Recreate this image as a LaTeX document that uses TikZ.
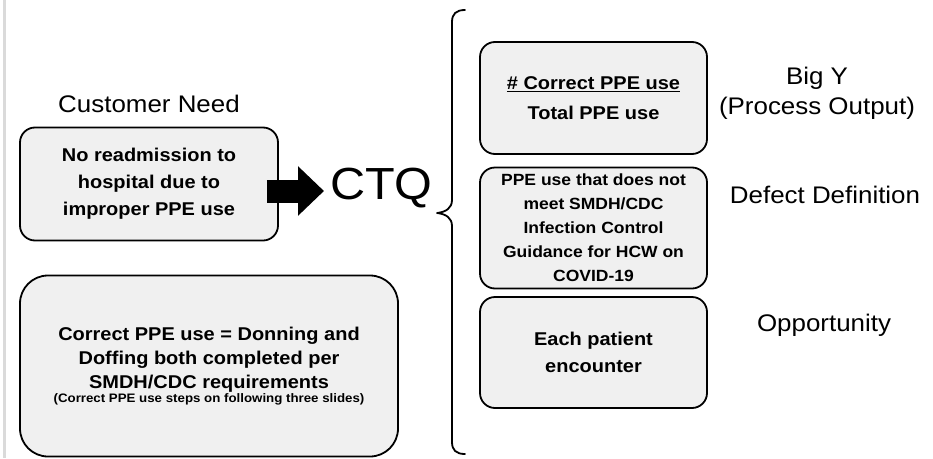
\documentclass[tikz,border=0pt]{standalone}
\usepackage{fontspec}
\setmainfont{Liberation Sans}[FakeStretch=1.08]
\usetikzlibrary{arrows.meta}
\definecolor{boxgray}{HTML}{F0F0F0}
\definecolor{bargray}{HTML}{DADADA}
\tikzset{
  box/.style={draw, line width=1.8pt, fill=boxgray, rounded corners=15pt, align=center,
    inner sep=0pt, font=\bfseries\fontsize{18.5}{27}\selectfont},
  lab/.style={align=center, inner sep=0pt, font=\fontsize{24}{30}\selectfont},
  brace/.style={line width=1.8pt, line cap=round, line join=round},
  bigarrow/.style={line width=23pt, -{Triangle[length=26pt,width=48pt]}}
}
\begin{document}
\begin{tikzpicture}[x=1pt,y=-1pt]
\useasboundingbox (0,0) rectangle (933,458);
\fill[bargray] (3,0) rectangle (6,458);

\node[lab] (need) at (149,104) {Customer Need};
\node[box, minimum width=258pt, minimum height=113pt] (b1) at (149,184)
  {No readmission to\\hospital due to\\improper PPE use};
\node[box, rounded corners=28pt, minimum width=378pt, minimum height=181pt,
  font=\bfseries\fontsize{18.5}{24}\selectfont] (b2) at (209,366)
  {Correct PPE use = Donning and\\Doffing both completed per\\SMDH/CDC requirements\\[-10pt]
   {\fontsize{12.3}{14}\selectfont (Correct PPE use steps on following three slides)}};

\node[anchor=west, inner sep=0pt, font=\fontsize{45}{50}\selectfont] (ctq) at (330,188) {CTQ};
\coordinate (ay) at (0,191);
\draw[bigarrow, shorten >=6pt] ([xshift=-12pt]b1.east |- ay) -- (ctq.west |- ay);

\draw[brace] (465,10) .. controls (456,10) and (452,14) .. (452,22)
  -- (452,200) .. controls (452,208) and (446,212) .. (437,213)
  .. controls (446,214) and (452,218) .. (452,226)
  -- (452,442) .. controls (452,450) and (456,454) .. (465,454);

\node[box, minimum width=227pt, minimum height=112pt,
  font=\bfseries\fontsize{18.5}{30}\selectfont] (ba) at (593.5,98)
  {\underline{\# Correct PPE use}\\Total PPE use};
\node[box, minimum width=227pt, minimum height=121pt,
  font=\bfseries\fontsize{16.2}{24}\selectfont] (bb) at (593.5,228)
  {PPE use that does not\\meet SMDH/CDC\\Infection Control\\Guidance for HCW on\\COVID-19};
\node[box, minimum width=227pt, minimum height=111pt] (bc) at (593.5,352.5)
  {Each patient\\encounter};

\node[lab] (bigy) at (817,93) {Big Y\\(Process Output)};
\node[lab] (defect) at (825,195) {Defect Definition};
\node[lab] (opp) at (824,325) {Opportunity};
\end{tikzpicture}
\end{document}
